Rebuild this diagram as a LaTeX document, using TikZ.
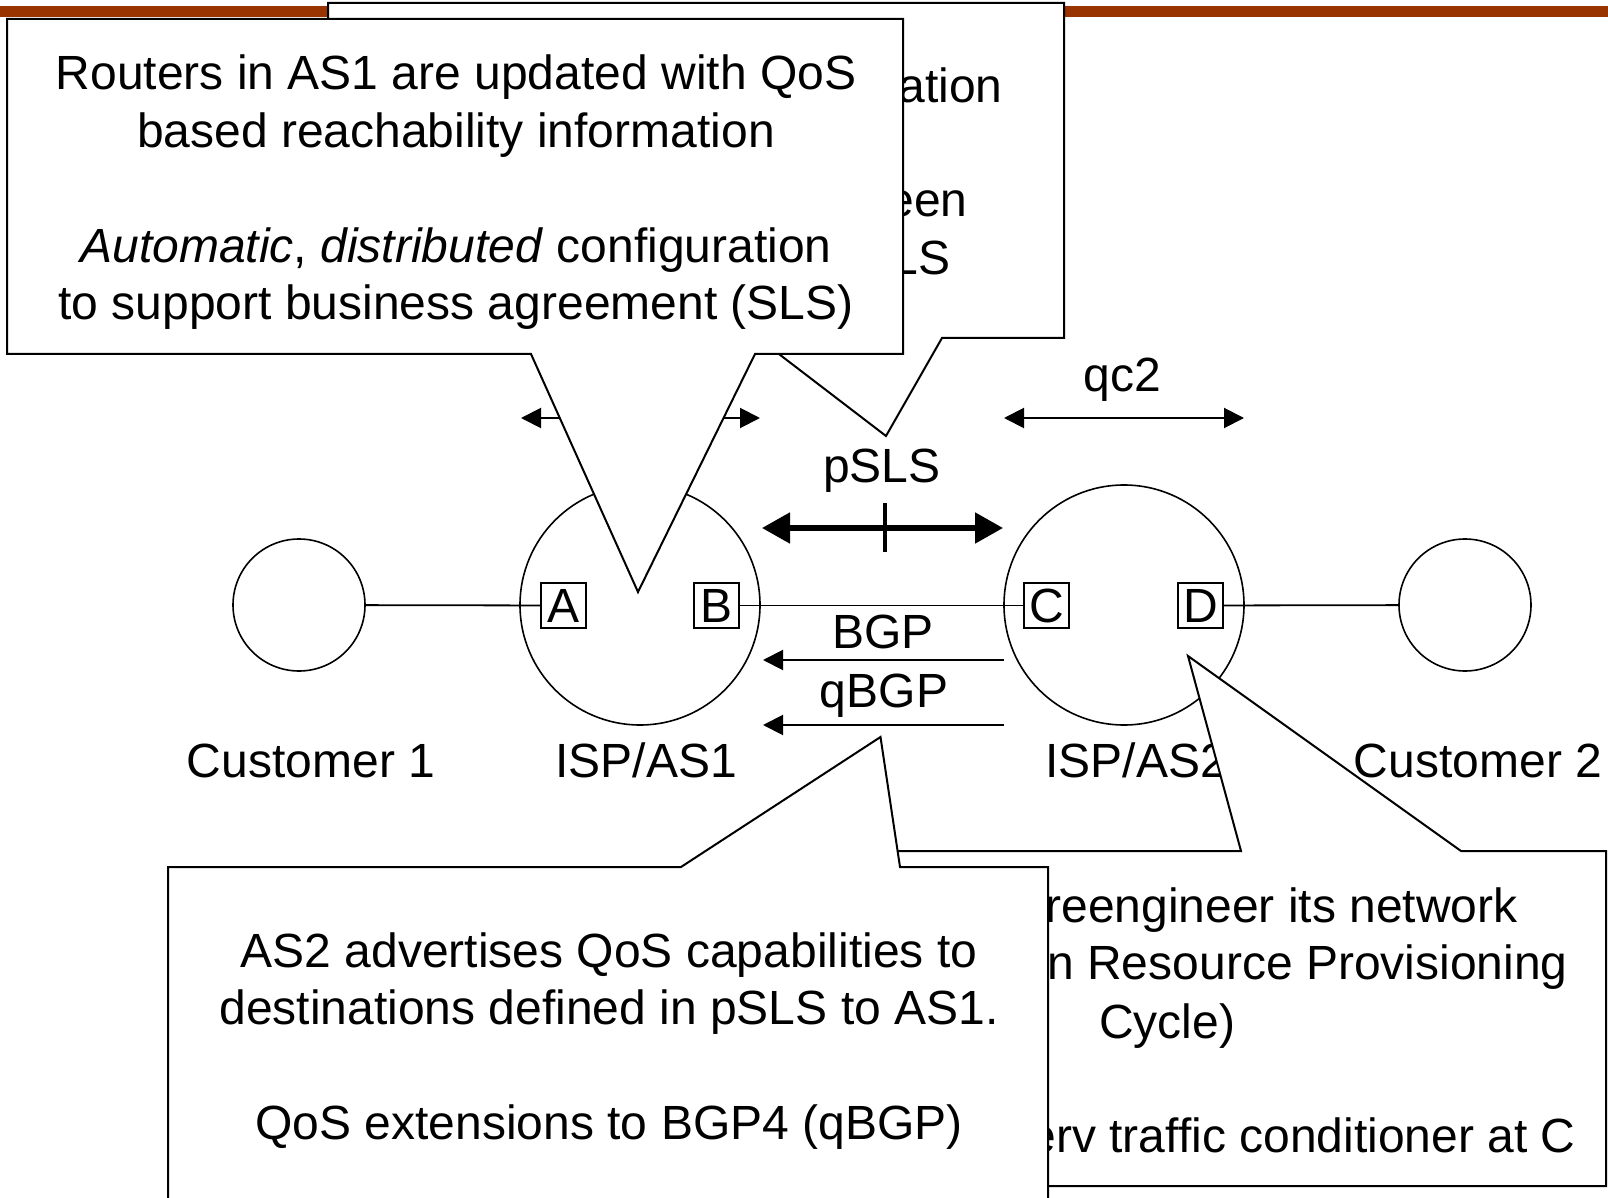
\documentclass[tikz,border=0pt]{standalone}
\usepackage{fontspec}
\setmainfont{Liberation Sans}
\usetikzlibrary{arrows.meta}

\begin{document}
\begin{tikzpicture}[x=0.5pt,y=-0.5pt,
  txt/.style={font=\fontsize{24}{28.75}\selectfont, inner sep=0pt},
  bubble/.style={draw=black, fill=white, line width=1pt, line join=miter},
  cloud/.style={circle, draw=black, line width=0.8pt, inner sep=0pt},
  router/.style={draw=black, line width=0.8pt, minimum size=22.5pt, inner sep=0pt,
    font=\fontsize{24}{28.75}\selectfont},
  link/.style={draw=black, line width=0.9pt},
  thinarrow/.style={draw=black, line width=1pt, >={Triangle[length=10pt,width=10pt]}},
  thickarrow/.style={draw=black, line width=2.6pt, >={Triangle[length=14pt,width=15pt]}}
]
\useasboundingbox (0,0) rectangle (1608,1198);

% title bar
\fill[fill={rgb,255:red,153;green,51;blue,0}] (0,6) rectangle (1608,17);

% network: customers, ISPs and border routers
\node[cloud, minimum size=66pt]  (cust1) at (299,605) {};
\node[cloud, minimum size=120pt] (as1)   at (640,605) {};
\node[cloud, minimum size=120pt] (as2)   at (1124,605) {};
\node[cloud, minimum size=66pt]  (cust2) at (1465,605) {};

\node[router] (A) at (563.5,605.5) {A};
\node[router] (B) at (716.5,605.5) {B};
\node[router] (C) at (1046.5,605.5) {C};
\node[router] (D) at (1200.5,605.5) {D};

\draw[link] (cust1) -- (A);
\draw[link] (B) -- (C);
\draw[link] (D) -- (cust2);

\node[txt, anchor=base] (lc1)  at (311,777)  {Customer 1};
\node[txt, anchor=base] (las1) at (646,777)  {ISP/AS1};
\node[txt, anchor=base] (las2) at (1136,777) {ISP/AS2};
\node[txt, anchor=base] (lc2)  at (1478,777) {Customer 2};

% QoS classes across each domain
\coordinate (qc1w) at (521,418);
\coordinate (qc1e) at (760,418);
\coordinate (qc2w) at (1004,418);
\coordinate (qc2e) at (1244,418);
\draw[thinarrow, <->] (qc1w) -- (qc1e);
\draw[thinarrow, <->] (qc2w) -- (qc2e);
\node[txt, anchor=base] (lqc2) at (1122,392) {qc2};

% pSLS between the two providers
\coordinate (pw) at (762,528);
\coordinate (pe) at (1003,528);
\draw[thickarrow, <->] (pw) -- (pe);
\coordinate (pt1) at (885,503);
\coordinate (pt2) at (885,552);
\draw[draw=black, line width=2.4pt] (pt1) -- (pt2);
\node[txt, anchor=base] (lpsls) at (882,482) {pSLS};

% route advertisements from AS2 to AS1
\coordinate (bgp1s) at (1004,660);
\coordinate (bgp1e) at (763,660);
\coordinate (bgp2s) at (1004,725);
\coordinate (bgp2e) at (763,725);
\draw[thinarrow, ->] (bgp1s) -- (bgp1e);
\draw[thinarrow, ->] (bgp2s) -- (bgp2e);
\node[txt, anchor=base] (lbgp)  at (883,648) {BGP};
\node[txt, anchor=base] (lqbgp) at (884,707) {qBGP};

% callout behind, pointing at the pSLS
\coordinate (tipT) at (886,436);
\draw[bubble] (328,3) -- (1064,3) -- (1064,338) -- (942,338) -- (tipT)
  -- (758,338) -- (328,338) -- cycle;
\node[txt, anchor=base east] (t1) at (1003,103) {ation};
\node[txt, anchor=base east] (t2) at (968,217) {een};
\node[txt, anchor=base east] (t3) at (951,275) {LS};

% callout on AS1
\coordinate (tipF1) at (638,592);
\draw[bubble] (7,19) -- (903,19) -- (903,354) -- (755,354) -- (tipF1)
  -- (531,354) -- (7,354) -- cycle;
\node[txt, align=center] (f1text) at (456,192.5)
  {Routers in AS1 are updated with QoS\\based reachability information\\[28.75pt]
   \textit{Automatic}, \textit{distributed} configuration\\to support business agreement (SLS)};

% callout on AS2
\coordinate (tipR) at (1188,656);
\draw[bubble] (718,851) -- (1241,851) -- (tipR) -- (1461,851) -- (1606,851)
  -- (1606,1186) -- (718,1186) -- cycle;
\node[txt, anchor=base east] (r1) at (1518,922)  {reengineer its network};
\node[txt, anchor=base east] (r2) at (1568,979)  {n Resource Provisioning};
\node[txt, anchor=base]      (r3) at (1167,1038) {Cycle)};
\node[txt, anchor=base east] (r4) at (1576,1152) {erv traffic conditioner at C};

% callout on the qBGP advertisement
\coordinate (tipF) at (880.5,737);
\draw[bubble] (168,867) -- (681,867) -- (tipF) -- (900,867) -- (1048,867)
  -- (1048,1215) -- (168,1215) -- cycle;
\node[txt, align=center] (ftext) at (609,1041)
  {AS2 advertises QoS capabilities to\\destinations defined in pSLS to AS1.\\[28.75pt]
   QoS extensions to BGP4 (qBGP)};
\end{tikzpicture}
\end{document}
